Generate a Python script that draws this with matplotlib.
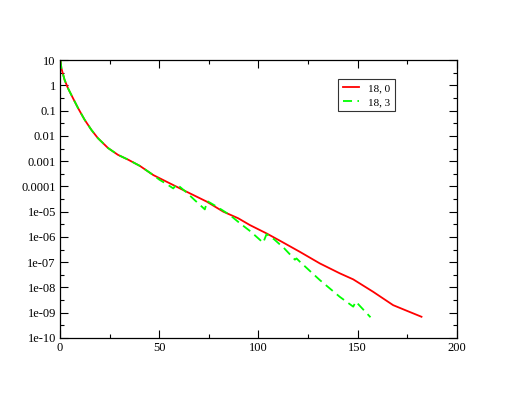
import numpy as np
import matplotlib
matplotlib.use("Agg")
import matplotlib.pyplot as plt
from matplotlib.ticker import FixedLocator, FuncFormatter

plt.rcParams['font.family'] = ['Liberation Serif', 'DejaVu Serif']

# red curve "18, 0" (x, log10 y)
x_red = [0, 0.3, 0.7, 2.3, 4.0, 6.5, 9.1, 12.4, 15.8, 19.1, 24.2, 29.2, 34.3, 40.3,
         47.0, 55.4, 63.8, 73.9, 82.3, 89.8, 95.7, 104.1, 112, 120.9, 131, 141,
         147.8, 157.8, 167.9, 174.7, 182.2]
logy_red = [1.0, 0.95, 0.68, 0.22, -0.11, -0.5, -0.9, -1.36, -1.76, -2.09, -2.48,
            -2.75, -2.94, -3.19, -3.55, -3.88, -4.21, -4.6, -5.0, -5.26, -5.53, -5.86,
            -6.2, -6.59, -7.05, -7.44, -7.68, -8.17, -8.7, -8.92, -9.16]

# green curve "18, 3"
x_green = [0, 0.3, 0.7, 2.3, 4.0, 6.5, 9.1, 12.4, 15.8, 19.1, 24.2, 29.2, 34.3, 40.3,
           47.0, 50, 54, 57.1, 58.8, 63.8, 68, 73, 74.2, 79, 85.6, 90.7, 96, 102.4,
           104.1, 108, 113, 118.4, 119.2, 120.9, 126, 131, 141, 147.8, 149.1, 156.5]
logy_green = [1.0, 0.95, 0.68, 0.22, -0.11, -0.5, -0.9, -1.36, -1.76, -2.09, -2.48,
              -2.75, -2.94, -3.19, -3.55, -3.73, -3.92, -4.08, -3.91, -4.24, -4.55,
              -4.91, -4.58, -4.8, -5.13, -5.46, -5.78, -6.23, -5.89, -6.1, -6.45,
              -6.9, -6.85, -6.98, -7.35, -7.71, -8.37, -8.76, -8.56, -9.18]

y_labels = ["1e-10", "1e-09", "1e-08", "1e-07", "1e-06", "1e-05",
            "0.0001", "0.001", "0.01", "0.1", "1", "10"]

fig = plt.figure(figsize=(5.15, 3.98), dpi=100)
ax = fig.add_axes([0.1165, 0.1508, 0.7705, 0.6982])

ax.plot(x_red, 10 ** np.array(logy_red), color='#ff0000', lw=1.3, label='18, 0')
ax.plot(x_green, 10 ** np.array(logy_green), color='#00ff00', lw=1.3,
        dashes=(5, 3), label='18, 3')

ax.set_yscale('log')
ax.set_xlim(0, 200)
ax.set_ylim(1e-10, 10)

ax.xaxis.set_major_locator(FixedLocator([0, 50, 100, 150, 200]))
ax.xaxis.set_minor_locator(FixedLocator([25, 75, 125, 175]))
ax.yaxis.set_major_locator(FixedLocator([10.0 ** k for k in range(-10, 2)]))
ax.yaxis.set_minor_locator(FixedLocator([10.0 ** (k + 0.5) for k in range(-10, 1)]))
ax.yaxis.set_major_formatter(FuncFormatter(
    lambda v, p: y_labels[int(round(np.log10(v))) + 10]))
ax.yaxis.set_minor_formatter(FuncFormatter(lambda v, p: ''))

ax.tick_params(which='both', direction='in', top=True, right=True,
               labelsize=9, width=0.8)
ax.tick_params(which='major', length=6, pad=3)
ax.tick_params(which='minor', length=3)
for s in ax.spines.values():
    s.set_linewidth(0.9)

leg = ax.legend(loc='upper left', bbox_to_anchor=(0.701, 0.932), borderaxespad=0,
                fontsize=8, frameon=True, fancybox=False, handlelength=1.45,
                borderpad=0.4, labelspacing=0.35, handletextpad=0.85)
leg.get_frame().set_edgecolor('black')
leg.get_frame().set_linewidth(0.8)

fig.savefig('out.png', dpi=100)
